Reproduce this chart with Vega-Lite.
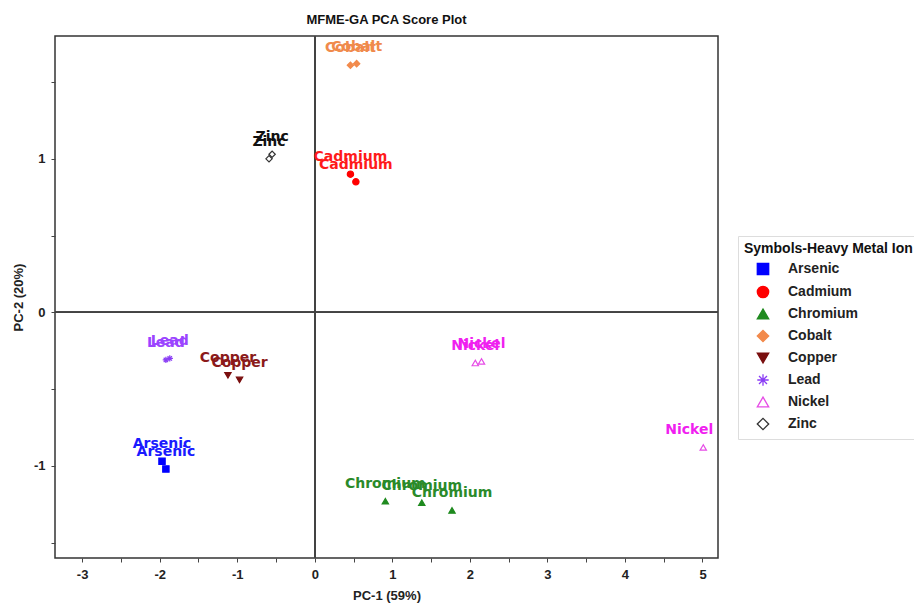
{
  "$schema": "https://vega.github.io/schema/vega-lite/v6.json",
  "width": 663,
  "height": 522,
  "autosize": {"type": "none"},
  "padding": {"left": 55, "top": 36, "right": 196, "bottom": 51},
  "background": "white",
  "title": {"text": "MFME-GA PCA Score Plot", "font": "Liberation Sans", "fontSize": 13, "fontWeight": "bold", "color": "#111", "offset": 9, "anchor": "middle"},
  "config": {
    "view": {"stroke": "#333", "strokeWidth": 1.5},
    "axis": {"domain": false, "grid": false, "ticks": true, "tickColor": "#444", "tickSize": 4, "labelFont": "Liberation Sans", "labelFontWeight": "bold", "labelFontSize": 13, "labelColor": "#222", "labelOverlap": false, "titleFont": "Liberation Sans", "titleFontWeight": "bold", "titleFontSize": 13, "titleColor": "#222"},
    "axisX": {"labelPadding": 6, "titlePadding": 8},
    "axisY": {"labelPadding": 6, "titlePadding": 8},
    "legend": {"orient": "none", "legendX": 683, "legendY": 200, "padding": 6, "strokeColor": "#dddddd", "fillColor": "white", "titleFont": "Liberation Sans", "titleFontWeight": "bold", "titleFontSize": 14, "titleColor": "#111", "titleLimit": 400, "titlePadding": 6, "labelFont": "Liberation Sans", "labelFontWeight": "bold", "labelFontSize": 14, "labelColor": "#222", "symbolSize": 130, "symbolStrokeWidth": 1.3, "symbolOffset": 12, "labelOffset": 18, "rowPadding": 5}
  },
  "data": {"values": [
    {"metal": "Arsenic", "pc1": -1.97, "pc2": -0.97},
    {"metal": "Arsenic", "pc1": -1.92, "pc2": -1.02},
    {"metal": "Cadmium", "pc1": 0.46, "pc2": 0.90},
    {"metal": "Cadmium", "pc1": 0.53, "pc2": 0.85},
    {"metal": "Chromium", "pc1": 0.91, "pc2": -1.23},
    {"metal": "Chromium", "pc1": 1.38, "pc2": -1.24},
    {"metal": "Chromium", "pc1": 1.77, "pc2": -1.29},
    {"metal": "Cobalt", "pc1": 0.46, "pc2": 1.61},
    {"metal": "Cobalt", "pc1": 0.54, "pc2": 1.62},
    {"metal": "Copper", "pc1": -1.12, "pc2": -0.41},
    {"metal": "Copper", "pc1": -0.97, "pc2": -0.44},
    {"metal": "Lead", "pc1": -1.92, "pc2": -0.31},
    {"metal": "Lead", "pc1": -1.87, "pc2": -0.30},
    {"metal": "Nickel", "pc1": 2.07, "pc2": -0.33},
    {"metal": "Nickel", "pc1": 2.15, "pc2": -0.32},
    {"metal": "Nickel", "pc1": 5.01, "pc2": -0.88},
    {"metal": "Zinc", "pc1": -0.59, "pc2": 1.00},
    {"metal": "Zinc", "pc1": -0.55, "pc2": 1.03}
  ]},
  "layer": [
    {
      "mark": {"type": "rule", "color": "#444", "strokeWidth": 1},
      "encoding": {"x": {"datum": 0, "type": "quantitative", "title": "PC-1 (59%)", "scale": {"domain": [-3.35, 5.2], "nice": false, "zero": false}, "axis": {"values": [-3, -2.5, -2, -1.5, -1, -0.5, 0, 0.5, 1, 1.5, 2, 2.5, 3, 3.5, 4, 4.5, 5], "labelExpr": "datum.value % 1 === 0 ? '' + datum.value : ''"}}}
    },
    {
      "mark": {"type": "rule", "color": "#444", "strokeWidth": 1},
      "encoding": {"y": {"datum": 0, "type": "quantitative", "title": "PC-2 (20%)", "scale": {"domain": [-1.6, 1.8], "nice": false, "zero": false}, "axis": {"values": [-1.5, -1, -0.5, 0, 0.5, 1, 1.5], "labelExpr": "datum.value % 1 === 0 ? '' + datum.value : ''"}}}
    },
    {
      "mark": {"type": "point", "strokeWidth": 1.2, "opacity": 1, "size": 40},
      "encoding": {
        "x": {"field": "pc1", "type": "quantitative", "title": "PC-1 (59%)", "scale": {"domain": [-3.35, 5.2], "nice": false, "zero": false}},
        "y": {"field": "pc2", "type": "quantitative", "title": "PC-2 (20%)", "scale": {"domain": [-1.6, 1.8], "nice": false, "zero": false}},
        "shape": {"field": "metal", "type": "nominal", "title": "Symbols-Heavy Metal Ion", "scale": {"domain": ["Arsenic", "Cadmium", "Chromium", "Cobalt", "Copper", "Lead", "Nickel", "Zinc"], "range": ["square", "circle", "triangle-up", "diamond", "triangle-down", "M-1,0L1,0M0,-1L0,1M-0.7,-0.7L0.7,0.7M-0.7,0.7L0.7,-0.7", "triangle-up", "diamond"]}},
        "fill": {"field": "metal", "type": "nominal", "title": "Symbols-Heavy Metal Ion", "scale": {"domain": ["Arsenic", "Cadmium", "Chromium", "Cobalt", "Copper", "Lead", "Nickel", "Zinc"], "range": ["#0000ff", "#ff0000", "#1f8a1f", "#f28a4c", "#7a0f0f", "transparent", "transparent", "transparent"]}},
        "stroke": {"field": "metal", "type": "nominal", "title": "Symbols-Heavy Metal Ion", "scale": {"domain": ["Arsenic", "Cadmium", "Chromium", "Cobalt", "Copper", "Lead", "Nickel", "Zinc"], "range": ["#0000ff", "#ff0000", "#1f8a1f", "#f28a4c", "#7a0f0f", "#8a3df5", "#e64ce6", "#333333"]}}
      }
    },
    {
      "transform": [{"filter": "datum.pc1 < 4.5"}],
      "mark": {"type": "text", "font": "DejaVu Sans", "fontWeight": "bold", "fontSize": 14, "dy": -17, "baseline": "middle", "align": "center"},
      "encoding": {
        "x": {"field": "pc1", "type": "quantitative"},
        "y": {"field": "pc2", "type": "quantitative"},
        "text": {"field": "metal"},
        "color": {"field": "metal", "type": "nominal", "legend": null, "scale": {"range": ["#1a1aff", "#ff1a1a", "#2a8a2a", "#f08a4c", "#8b1a1a", "#9b44ff", "#f01ff0", "#111111"]}}
      }
    },
    {
      "transform": [{"filter": "datum.pc1 >= 4.5"}],
      "mark": {"type": "text", "font": "DejaVu Sans", "fontWeight": "bold", "fontSize": 14, "dy": -17, "dx": 10, "baseline": "middle", "align": "right"},
      "encoding": {
        "x": {"field": "pc1", "type": "quantitative"},
        "y": {"field": "pc2", "type": "quantitative"},
        "text": {"field": "metal"},
        "color": {"field": "metal", "type": "nominal", "legend": null}
      }
    }
  ]
}
